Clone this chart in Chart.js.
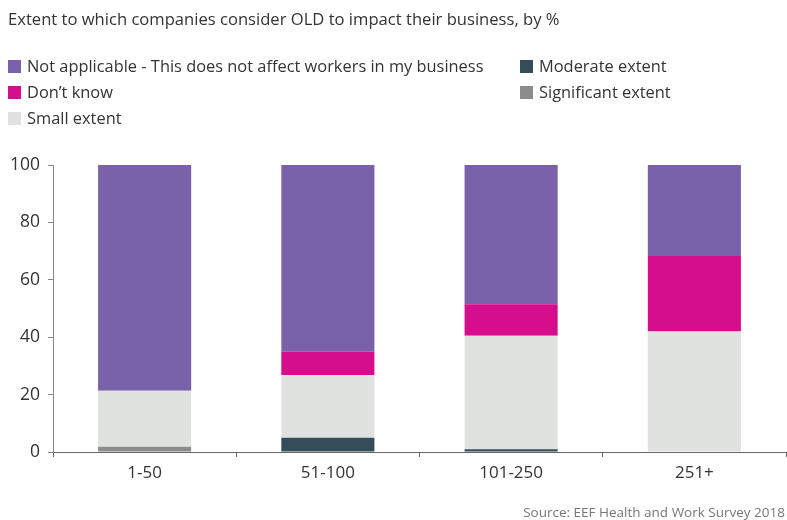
<!DOCTYPE html>
<html>
<head>
<meta charset="utf-8">
<script src="https://cdn.jsdelivr.net/npm/chart.js@4.4.1/dist/chart.umd.min.js"></script>
<style>
  body { margin: 0; background: #fff; font-family: 'Open Sans', sans-serif; color: #333; }
  #wrap { position: relative; width: 787px; height: 520px; overflow: hidden; }
  #chart { position: absolute; left: 0; top: 0; }
  .title { position: absolute; left: 8px; top: 7px; font-size: 16.6px; white-space: nowrap; }
  .legend-item { position: absolute; font-size: 16.4px; white-space: nowrap; line-height: 20px; }
  .legend-item i { display: inline-block; width: 13px; height: 13px; margin-right: 6px; vertical-align: -1px; }
  .source { position: absolute; right: 2px; top: 503px; font-size: 13.5px; color: #777; white-space: nowrap; }
</style>
</head>
<body>
<div id="wrap">
  <canvas id="chart" width="787" height="520"></canvas>
  <div class="title">Extent to which companies consider OLD to impact their business, by %</div>
  <div id="legend"></div>
  <div class="source">Source: EEF Health and Work Survey 2018</div>
</div>
<script>
// Company size bands
const categories = ['1-50', '51-100', '101-250', '251+'];

// Share of companies per answer, % (stacked bottom to top)
const significant = [1.8, 0, 0, 0];
const moderate = [0, 5, 1, 0];
const small = [19.5, 21.8, 39.5, 42];
const dontKnow = [0, 8.1, 11, 26.3];
const notApplicable = [78.7, 65.1, 48.5, 31.7];

const yTicks = [0, 20, 40, 60, 80, 100];

const COLORS = {
    notApplicable: '#7a62ab',
    dontKnow: '#d60d8c',
    small: '#e0e2e0',
    moderate: '#344d58',
    significant: '#8c8c8c',
    axis: '#666',
    text: '#333'
};

// Legend laid out in two columns, same as the report
const legendItems = [
    { label: 'Not applicable - This does not affect workers in my business', color: COLORS.notApplicable, x: 8, y: 56 },
    { label: 'Don\u2019t know', color: COLORS.dontKnow, x: 8, y: 82 },
    { label: 'Small extent', color: COLORS.small, x: 8, y: 108 },
    { label: 'Moderate extent', color: COLORS.moderate, x: 520, y: 56 },
    { label: 'Significant extent', color: COLORS.significant, x: 520, y: 82 }
];

const legend = document.getElementById('legend');
legendItems.forEach(item => {
    const el = document.createElement('div');
    el.className = 'legend-item';
    el.style.left = item.x + 'px';
    el.style.top = item.y + 'px';
    el.innerHTML = `<i style="background:${item.color}"></i>${item.label}`;
    legend.appendChild(el);
});

function dataset(label, data, color) {
    return {
        label: label,
        data: data,
        backgroundColor: color,
        borderWidth: 0,
        categoryPercentage: 1,
        barPercentage: 0.508
    };
}

new Chart(document.getElementById('chart').getContext('2d'), {
    type: 'bar',
    data: {
        labels: categories,
        datasets: [
            dataset('Significant extent', significant, COLORS.significant),
            dataset('Moderate extent', moderate, COLORS.moderate),
            dataset('Small extent', small, COLORS.small),
            dataset('Don\u2019t know', dontKnow, COLORS.dontKnow),
            dataset('Not applicable - This does not affect workers in my business', notApplicable, COLORS.notApplicable)
        ]
    },
    options: {
        responsive: false,
        animation: false,
        layout: { padding: { top: 165, right: 1, left: 0, bottom: 0 } },
        plugins: {
            legend: { display: false },
            tooltip: { enabled: false }
        },
        scales: {
            x: {
                stacked: true,
                afterFit: s => { s.height = 68; },
                border: { display: true, color: COLORS.axis, width: 1 },
                grid: { drawOnChartArea: false, drawTicks: true, tickLength: 5, color: COLORS.axis, offset: true },
                ticks: { color: COLORS.text, padding: 6, font: { family: 'Open Sans', size: 17 } }
            },
            y: {
                stacked: true,
                min: 0,
                max: 100,
                afterFit: s => { s.width = 53; },
                afterBuildTicks: s => { s.ticks = yTicks.map(v => ({ value: v })); },
                border: { display: true, color: '#888', width: 1 },
                grid: { drawOnChartArea: false, drawTicks: true, tickLength: 5, color: '#888' },
                ticks: { color: COLORS.text, padding: 8, font: { family: 'Open Sans', size: 17.5 } }
            }
        }
    }
});
</script>
</body>
</html>
